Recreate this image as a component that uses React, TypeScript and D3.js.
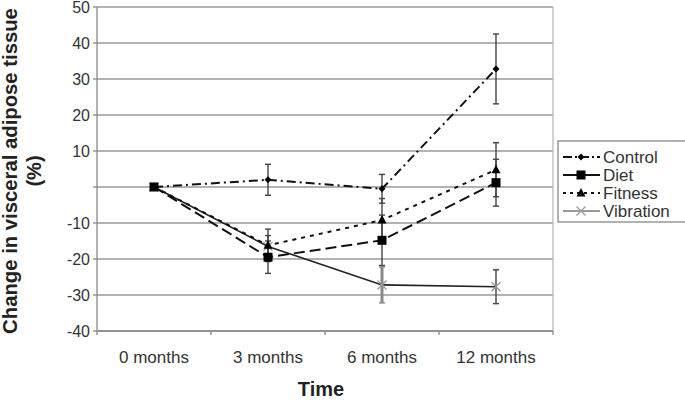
import React from "react";
import * as d3 from "d3";

const categories = ["0 months", "3 months", "6 months", "12 months"];
const yTicks = [-40, -30, -20, -10, 0, 10, 20, 30, 40, 50];
const yTickLabels = ["-40", "-30", "-20", "-10", "", "10", "20", "30", "40", "50"];
const seriesNames = ["Control", "Diet", "Fitness", "Vibration"];
const controlVals = [0, 2, -0.5, 32.8];
const controlErr = [0, 4.3, 4, 9.7];
const dietVals = [0, -19.5, -14.8, 1.2];
const dietErr = [0, 4.5, 7, 6.5];
const fitnessVals = [0, -16.2, -9.2, 4.8];
const fitnessErr = [0, 4.5, 6, 7.5];
const vibrationVals = [0, -16.5, -27.2, -27.7];
const vibrationErr = [0, 3, 5, 4.7];

const W = 685, H = 401;
const left = 97, right = 553, top = 7, bottom = 331;

const styles: Record<string, { dash: string; legendDash: string; width: number; color: string; marker: string }> = {
  Control: { dash: "9,4,2,4", legendDash: "9,3,2,3", width: 2, color: "#111", marker: "diamond" },
  Diet: { dash: "11,5", legendDash: "none", width: 2, color: "#111", marker: "square" },
  Fitness: { dash: "4,5", legendDash: "3,4", width: 2, color: "#111", marker: "triangle" },
  Vibration: { dash: "none", legendDash: "none", width: 1.6, color: "#222", marker: "x" },
};

function Marker({ type, x, y }: { type: string; x: number; y: number }) {
  if (type === "square") return <rect x={x - 4.5} y={y - 4.5} width={9} height={9} fill="#000" />;
  if (type === "triangle")
    return <path d={`M${x},${y - 5}L${x + 4.5},${y + 3.5}L${x - 4.5},${y + 3.5}Z`} fill="#000" />;
  if (type === "diamond")
    return <path d={`M${x},${y - 3.5}L${x + 3.5},${y}L${x},${y + 3.5}L${x - 3.5},${y}Z`} fill="#000" />;
  return (
    <g stroke="#999" strokeWidth={1.3}>
      <line x1={x - 4.5} y1={y - 4.5} x2={x + 4.5} y2={y + 4.5} />
      <line x1={x - 4.5} y1={y + 4.5} x2={x + 4.5} y2={y - 4.5} />
    </g>
  );
}

export default function App() {
  const x = d3.scaleBand<string>().domain(categories).range([left, right]);
  const y = d3.scaleLinear().domain([-40, 50]).range([bottom, top]);
  const cx = (c: string) => (x(c) as number) + x.bandwidth() / 2;
  const data: Record<string, { v: number[]; e: number[] }> = {
    Control: { v: controlVals, e: controlErr },
    Diet: { v: dietVals, e: dietErr },
    Fitness: { v: fitnessVals, e: fitnessErr },
    Vibration: { v: vibrationVals, e: vibrationErr },
  };
  const line = d3
    .line<[number, number]>()
    .x((d) => d[0])
    .y((d) => d[1]);
  const font = "Liberation Sans, Arial, sans-serif";
  const drawOrder = ["Vibration", "Fitness", "Diet", "Control"];
  return (
    <svg width={W} height={H} style={{ position: "absolute", left: 0, top: 0 }} fontFamily={font}>
      <rect width={W} height={H} fill="#fff" />
      {yTicks.map((t) => (
        <line key={t} x1={left - 4} x2={right} y1={y(t)} y2={y(t)} stroke="#999" strokeWidth={1.3} />
      ))}
      <line x1={right} x2={right} y1={top} y2={bottom} stroke="#bbb" strokeWidth={1.3} />
      <line x1={left} x2={left} y1={top} y2={bottom} stroke="#888" strokeWidth={1.3} />
      <line x1={left} x2={right} y1={bottom} y2={bottom} stroke="#888" strokeWidth={1.3} />
      {categories.map((c) => (
        <line key={c} x1={x(c) as number} x2={x(c) as number} y1={bottom} y2={bottom + 4} stroke="#888" strokeWidth={1.3} />
      ))}
      <line x1={right} x2={right} y1={bottom} y2={bottom + 4} stroke="#888" strokeWidth={1.3} />
      {yTicks.map((t, i) => (
        <text key={t} x={left - 7} y={y(t)} dy="0.35em" textAnchor="end" fontSize={16} fill="#333">
          {yTickLabels[i]}
        </text>
      ))}
      {categories.map((c) => (
        <text key={c} x={cx(c)} y={363} textAnchor="middle" fontSize={17} fill="#333">
          {c}
        </text>
      ))}
      <text x={321} y={396} textAnchor="middle" fontSize={20} fontWeight="bold" fill="#222">
        Time
      </text>
      <g transform="translate(10,171) rotate(-90)">
        <text x={0} y={0} dy="0.35em" textAnchor="middle" fontSize={20.3} fontWeight="bold" fill="#222">
          Change in visceral adipose tissue
        </text>
      </g>
      <g transform="translate(34,171) rotate(-90)">
        <text x={0} y={0} dy="0.35em" textAnchor="middle" fontSize={20} fontWeight="bold" fill="#222">
          (%)
        </text>
      </g>
      {drawOrder.map((s) => {
        const st = styles[s];
        const pts = categories.map((c, i) => [cx(c), y(data[s].v[i])] as [number, number]);
        return (
          <path key={s} d={line(pts) || ""} fill="none" stroke={st.color} strokeWidth={st.width}
            strokeDasharray={st.dash === "none" ? undefined : st.dash} />
        );
      })}
      {drawOrder.map((s) =>
        categories.map((c, i) => {
          const e = data[s].e[i];
          if (!e) return null;
          const v = data[s].v[i];
          const px = cx(c);
          const isVib = s === "Vibration" && i === 2;
          return (
            <g key={s + c} stroke={isVib ? "#888" : "#444"} strokeWidth={isVib ? 3 : 1.4}>
              <line x1={px} x2={px} y1={y(v + e)} y2={y(v - e)} />
              <line x1={px - 3} x2={px + 3} y1={y(v + e)} y2={y(v + e)} strokeWidth={1.4} />
              <line x1={px - 3} x2={px + 3} y1={y(v - e)} y2={y(v - e)} strokeWidth={1.4} />
            </g>
          );
        })
      )}
      {drawOrder.map((s) =>
        categories.map((c, i) => <Marker key={s + c} type={styles[s].marker} x={cx(c)} y={y(data[s].v[i])} />)
      )}
      <rect x={558} y={141} width={130} height={81} fill="#fff" stroke="#888" strokeWidth={1.3} />
      {seriesNames.map((s, i) => {
        const ly = 157 + i * 18;
        const st = styles[s];
        return (
          <g key={s}>
            <line x1={563} x2={600} y1={ly} y2={ly} stroke={s === "Vibration" ? "#777" : "#111"} strokeWidth={st.width}
              strokeDasharray={st.legendDash === "none" ? undefined : st.legendDash} />
            <Marker type={st.marker} x={581} y={ly} />
            <text x={603} y={ly} dy="0.35em" fontSize={17} fill="#333">
              {s}
            </text>
          </g>
        );
      })}
    </svg>
  );
}
